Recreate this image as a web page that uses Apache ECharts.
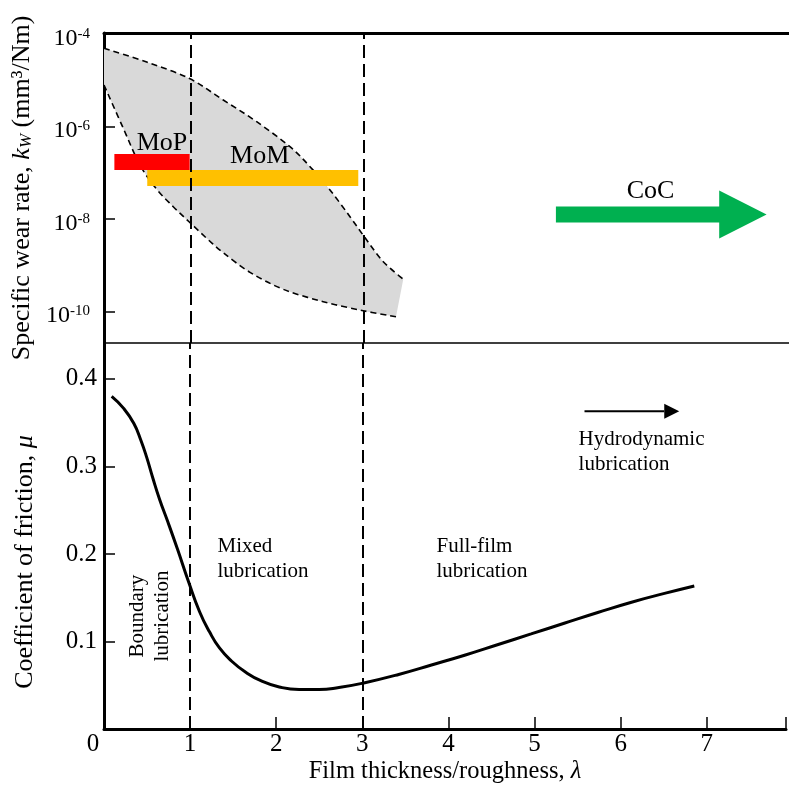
<!DOCTYPE html>
<html>
<head>
<meta charset="utf-8">
<script src="https://cdn.jsdelivr.net/npm/echarts@6/dist/echarts.min.js"></script>
<style>
  html, body { margin: 0; padding: 0; background: #fff; }
  #chart { width: 789px; height: 792px; }
</style>
</head>
<body>
<div id="chart"></div>
<script>
const FONT = '"Liberation Serif", "Times New Roman", serif';

// Film thickness ratio (lambda) axis
const lambdaTicks = [0, 1, 2, 3, 4, 5, 6, 7];
const lambdaMax = 7.92;
const regimeBounds = [1, 3];

// Specific wear rate band, stored as log10(k_W)
const bandUpperLambda = [0, 0.494, 0.983, 1.379, 1.765, 2.150, 2.382, 2.613, 2.844, 3.037, 3.229, 3.460];
const bandUpperLogK   = [-4.307, -4.604, -4.957, -5.426, -5.896, -6.437, -6.870, -7.374, -7.952, -8.457, -8.926, -9.307];
const bandLowerLambda = [0, 0.223, 0.416, 0.609, 0.801, 0.983, 1.187, 1.379, 1.688, 2.073, 2.535, 2.997, 3.376];
const bandLowerLogK   = [-5.102, -6.039, -6.833, -7.359, -7.736, -8.061, -8.420, -8.732, -9.156, -9.524, -9.792, -9.987, -10.117];
const wearTicks = [-10, -8, -6, -4];
const wearMin = -10.686;
const wearMax = -3.976;

// Material pair ranges (metal-on-polymer, metal-on-metal, ceramic-on-ceramic)
const mopLambda = [0.12, 0.99];
const mopLogK = -6.77;
const momLambda = [0.50, 2.94];
const momLogK = -7.115;
const cocLambda = [5.225, 7.113, 7.661];   // tail, head base, tip
const cocLogK = -7.905;

// Stribeck curve: coefficient of friction vs lambda
const stribeckLambda = [0.089, 0.231, 0.347, 0.428, 0.497, 0.566, 0.647, 0.740, 0.855, 0.983, 1.110, 1.225, 1.341, 1.480, 1.642, 1.827, 2.035, 2.266, 2.497, 2.728, 3.017, 3.422, 3.803, 4.197, 4.578, 4.960, 5.353, 5.734, 6.116, 6.509, 6.855];
const stribeckMu     = [0.380, 0.366, 0.349, 0.330, 0.310, 0.287, 0.262, 0.237, 0.205, 0.168, 0.134, 0.111, 0.0926, 0.0777, 0.0651, 0.0549, 0.0480, 0.0451, 0.0451, 0.0474, 0.0526, 0.0623, 0.0731, 0.0846, 0.0966, 0.1086, 0.1211, 0.1331, 0.1446, 0.1549, 0.1634];
const muTicks = [0.1, 0.2, 0.3, 0.4];
const muMax = 0.441;
const hydroArrowLambda = [5.58, 6.68];
const hydroArrowMu = 0.363;

// Text notes placed in data coordinates
const wearNotes = [
  { text: 'MoP', x: 0.67, y: -6.36 },
  { text: 'MoM', x: 1.80, y: -6.65 },
  { text: 'CoC', x: 6.32, y: -7.39 }
];
const frictionNotes = [
  { text: 'Boundary\nlubrication', x: 0.532, y: 0.129, align: 'center', rot: 90 },
  { text: 'Mixed\nlubrication', x: 1.318, y: 0.194, align: 'left' },
  { text: 'Full-film\nlubrication', x: 3.861, y: 0.194, align: 'left' },
  { text: 'Hydrodynamic\nlubrication', x: 5.511, y: 0.317, align: 'left' }
];

const zip = (a, b) => a.map((v, i) => [v, b[i]]);

// Smooth SVG segments (Catmull-Rom as cubic Bezier) through pixel points
function curveSegments(pts) {
  let d = '';
  for (let i = 0; i < pts.length - 1; i++) {
    const p0 = pts[i - 1] || pts[i];
    const p1 = pts[i];
    const p2 = pts[i + 1];
    const p3 = pts[i + 2] || pts[i + 1];
    const c1 = [p1[0] + (p2[0] - p0[0]) / 6, p1[1] + (p2[1] - p0[1]) / 6];
    const c2 = [p2[0] - (p3[0] - p1[0]) / 6, p2[1] - (p3[1] - p1[1]) / 6];
    d += ' C' + c1[0] + ',' + c1[1] + ' ' + c2[0] + ',' + c2[1] + ' ' + p2[0] + ',' + p2[1];
  }
  return d;
}
const moveTo = p => 'M' + p[0] + ',' + p[1];

const guideLine = {
  silent: true,
  symbol: 'none',
  label: { show: false },
  emphasis: { disabled: true },
  lineStyle: { color: '#000', width: 2, type: [13, 6] },
  data: regimeBounds.map(v => ({ xAxis: v }))
};

const chart = echarts.init(document.getElementById('chart'), null, { renderer: 'canvas' });

chart.setOption({
  animation: false,
  backgroundColor: '#fff',
  textStyle: { fontFamily: FONT },
  grid: [
    { left: 104, right: 0, top: 33, height: 310 },
    { left: 104, right: 0, top: 343, height: 386 }
  ],
  xAxis: [
    {
      gridIndex: 0, type: 'value', position: 'top', min: 0, max: lambdaMax,
      axisLine: { lineStyle: { color: '#000', width: 3 } },
      axisTick: { show: false }, axisLabel: { show: false }, splitLine: { show: false }
    },
    {
      gridIndex: 1, type: 'value', position: 'bottom', min: 0, max: lambdaMax, interval: 1,
      axisLine: { lineStyle: { color: '#000', width: 3 } },
      axisTick: { inside: true, length: 12, lineStyle: { color: '#000', width: 1.5 } },
      axisLabel: {
        color: '#000', fontFamily: FONT, fontSize: 25, margin: 3,
        formatter: v => {
          if (!lambdaTicks.includes(v)) return '';
          return v === 0 ? '{z|0}' : String(v);
        },
        rich: { z: { fontFamily: FONT, fontSize: 25, color: '#000', padding: [0, 22, 0, 0] } }
      },
      splitLine: { show: false },
      name: 'Film thickness/roughness, {i|λ}',
      nameLocation: 'middle', nameGap: 30,
      nameTextStyle: {
        color: '#000', fontFamily: FONT, fontSize: 24.5,
        rich: { i: { fontFamily: FONT, fontSize: 24.5, fontStyle: 'italic', color: '#000' } }
      }
    },
    {
      gridIndex: 0, type: 'value', position: 'bottom', min: 0, max: lambdaMax,
      axisLine: { lineStyle: { color: '#000', width: 1.5 } },
      axisTick: { show: false }, axisLabel: { show: false }, splitLine: { show: false }
    }
  ],
  yAxis: [
    {
      gridIndex: 0, type: 'value', min: wearMin, max: wearMax,
      axisLine: { show: true, lineStyle: { color: '#000', width: 3 } },
      axisTick: { show: true, inside: true, length: 11, customValues: wearTicks, lineStyle: { color: '#000', width: 1.5 } },
      axisLabel: {
        color: '#000', fontFamily: FONT, fontSize: 24, margin: 14, padding: [9, 0, 0, 0],
        customValues: wearTicks,
        formatter: v => '10{s|' + v + '}',
        rich: { s: { fontFamily: FONT, fontSize: 15, color: '#000', verticalAlign: 'top' } }
      },
      splitLine: { show: false },
      name: 'Specific wear rate, {i|k}{sub|W} (mm³/Nm)',
      nameLocation: 'middle', nameGap: 66,
      nameTextStyle: {
        color: '#000', fontFamily: FONT, fontSize: 26,
        rich: {
          i: { fontFamily: FONT, fontSize: 26, fontStyle: 'italic', color: '#000' },
          sub: { fontFamily: FONT, fontSize: 17, fontStyle: 'italic', color: '#000', verticalAlign: 'bottom' }
        }
      }
    },
    {
      gridIndex: 1, type: 'value', min: 0, max: muMax,
      axisLine: { show: true, lineStyle: { color: '#000', width: 3 } },
      axisTick: { show: true, inside: true, length: 11, customValues: muTicks, lineStyle: { color: '#000', width: 1.5 } },
      axisLabel: {
        color: '#000', fontFamily: FONT, fontSize: 25, margin: 7,
        customValues: muTicks,
        formatter: v => v.toFixed(1)
      },
      splitLine: { show: false },
      name: 'Coefficient of friction, {i|μ}',
      nameLocation: 'middle', nameGap: 66,
      nameTextStyle: {
        color: '#000', fontFamily: FONT, fontSize: 26, padding: [0, 52, 0, 0],
        rich: { i: { fontFamily: FONT, fontSize: 26, fontStyle: 'italic', color: '#000' } }
      }
    }
  ],
  series: [
    // grey wear-rate band with dashed borders
    {
      type: 'custom', xAxisIndex: 0, yAxisIndex: 0, z: 1, silent: true,
      data: zip(bandUpperLambda, bandUpperLogK),
      renderItem: (params, api) => {
        if (params.dataIndex !== 0) return null;
        const upper = zip(bandUpperLambda, bandUpperLogK).map(p => api.coord(p));
        const lower = zip(bandLowerLambda, bandLowerLogK).map(p => api.coord(p));
        const lowerRev = lower.slice().reverse();
        const upperPath = moveTo(upper[0]) + curveSegments(upper);
        const lowerPath = moveTo(lower[0]) + curveSegments(lower);
        const fillPath = upperPath + ' L' + lowerRev[0][0] + ',' + lowerRev[0][1] + curveSegments(lowerRev) + ' Z';
        const dashed = { fill: 'none', stroke: '#000', lineWidth: 1.6, lineDash: [6, 4] };
        return {
          type: 'group',
          children: [
            { type: 'path', shape: { pathData: fillPath }, style: { fill: '#d9d9d9', stroke: 'none' } },
            { type: 'path', shape: { pathData: upperPath }, style: dashed },
            { type: 'path', shape: { pathData: lowerPath }, style: dashed }
          ]
        };
      }
    },
    // metal-on-polymer range
    {
      type: 'line', xAxisIndex: 0, yAxisIndex: 0, z: 3, silent: true, showSymbol: false,
      data: mopLambda.map(x => [x, mopLogK]),
      lineStyle: { color: '#ff0000', width: 16, cap: 'butt' }
    },
    // metal-on-metal range
    {
      type: 'line', xAxisIndex: 0, yAxisIndex: 0, z: 3, silent: true, showSymbol: false,
      data: momLambda.map(x => [x, momLogK]),
      lineStyle: { color: '#ffc000', width: 16, cap: 'butt' }
    },
    // ceramic-on-ceramic arrow
    {
      type: 'custom', xAxisIndex: 0, yAxisIndex: 0, z: 3, silent: true,
      data: [[cocLambda[0], cocLambda[1], cocLambda[2], cocLogK]],
      encode: { x: [0, 1, 2], y: 3 },
      renderItem: (params, api) => {
        const y = api.value(3);
        const a = api.coord([api.value(0), y]);
        const b = api.coord([api.value(1), y]);
        const t = api.coord([api.value(2), y]);
        const cy = a[1], hs = 8, hh = 24;
        return {
          type: 'polygon',
          shape: { points: [[a[0], cy - hs], [b[0], cy - hs], [b[0], cy - hh], [t[0], cy], [b[0], cy + hh], [b[0], cy + hs], [a[0], cy + hs]] },
          style: { fill: '#00b050' }
        };
      }
    },
    // notes in the wear panel
    {
      type: 'custom', xAxisIndex: 0, yAxisIndex: 0, z: 4, silent: true,
      data: wearNotes.map(n => [n.x, n.y]),
      renderItem: (params, api) => {
        const n = wearNotes[params.dataIndex];
        const p = api.coord([api.value(0), api.value(1)]);
        return {
          type: 'text', x: p[0], y: p[1],
          style: { text: n.text, fontFamily: FONT, fontSize: 26, fill: '#000', align: 'center', verticalAlign: 'middle' }
        };
      }
    },
    // regime boundaries in the wear panel
    {
      type: 'line', xAxisIndex: 0, yAxisIndex: 0, z: 5, data: [], markLine: guideLine
    },
    // Stribeck curve
    {
      type: 'line', xAxisIndex: 1, yAxisIndex: 1, z: 3, silent: true,
      data: zip(stribeckLambda, stribeckMu),
      smooth: 0.5, showSymbol: false,
      lineStyle: { color: '#000', width: 3 }
    },
    // regime boundaries in the friction panel
    {
      type: 'line', xAxisIndex: 1, yAxisIndex: 1, z: 5, data: [], markLine: guideLine
    },
    // hydrodynamic direction arrow
    {
      type: 'custom', xAxisIndex: 1, yAxisIndex: 1, z: 4, silent: true,
      data: [[hydroArrowLambda[0], hydroArrowLambda[1], hydroArrowMu]],
      encode: { x: [0, 1], y: 2 },
      renderItem: (params, api) => {
        const s = api.coord([api.value(0), api.value(2)]);
        const e = api.coord([api.value(1), api.value(2)]);
        const head = 15, half = 7.5;
        return {
          type: 'group',
          children: [
            { type: 'line', shape: { x1: s[0], y1: s[1], x2: e[0] - head, y2: e[1] }, style: { stroke: '#000', lineWidth: 2 } },
            { type: 'polygon', shape: { points: [[e[0] - head, e[1] - half], [e[0], e[1]], [e[0] - head, e[1] + half]] }, style: { fill: '#000' } }
          ]
        };
      }
    },
    // regime notes in the friction panel
    {
      type: 'custom', xAxisIndex: 1, yAxisIndex: 1, z: 4, silent: true,
      data: frictionNotes.map(n => [n.x, n.y]),
      renderItem: (params, api) => {
        const n = frictionNotes[params.dataIndex];
        const p = api.coord([api.value(0), api.value(1)]);
        return {
          type: 'text', x: p[0], y: p[1],
          rotation: (n.rot || 0) * Math.PI / 180,
          style: { text: n.text, fontFamily: FONT, fontSize: 21, lineHeight: 25, fill: '#000', align: n.align, verticalAlign: 'middle' }
        };
      }
    }
  ]
});
</script>
</body>
</html>
